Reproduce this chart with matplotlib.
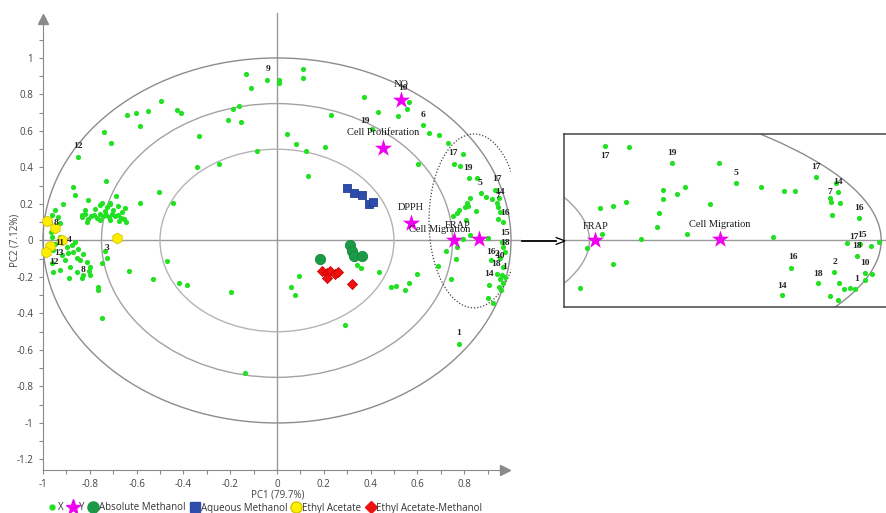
import numpy as np
import matplotlib.pyplot as plt
from matplotlib.patches import Ellipse
from matplotlib.lines import Line2D

# X-variable loadings (PC1, PC2), grouped by where they fall on the plot
x_upper = [(-0.132, 0.912), (-0.112, 0.837), (-0.044, 0.879), (0.010, 0.879), (0.010, 0.861),
           (-0.187, 0.719), (-0.161, 0.737), (-0.155, 0.651), (-0.209, 0.660),
           (-0.494, 0.766), (-0.429, 0.715), (-0.410, 0.697), (-0.551, 0.708), (-0.603, 0.697),
           (-0.640, 0.688), (-0.585, 0.627), (-0.739, 0.593), (-0.708, 0.536), (-0.335, 0.573),
           (-0.341, 0.404), (-0.247, 0.418), (-0.084, 0.492), (0.041, 0.582), (0.080, 0.527),
           (-0.852, 0.459), (-0.731, 0.326), (-0.871, 0.292), (-0.862, 0.249), (-0.808, 0.220),
           (-0.503, 0.264), (-0.443, 0.207), (-0.585, 0.204), (-0.688, 0.244), (-0.748, 0.204),
           (-0.714, 0.207), (-0.678, 0.191), (-0.651, 0.176), (-0.728, 0.182),
           (0.110, 0.938), (0.110, 0.889), (0.372, 0.788), (0.430, 0.702), (0.229, 0.688),
           (0.124, 0.492), (0.205, 0.512), (0.134, 0.355), (0.518, 0.682), (0.565, 0.761),
           (0.554, 0.721), (0.407, 0.611), (0.625, 0.633), (0.650, 0.591), (0.694, 0.578),
           (0.732, 0.536), (0.603, 0.419)]

x_band = [(-0.833, 0.129), (-0.821, 0.145), (-0.808, 0.118), (-0.795, 0.134), (-0.782, 0.140),
          (-0.769, 0.123), (-0.756, 0.145), (-0.744, 0.134), (-0.731, 0.140), (-0.718, 0.129),
          (-0.705, 0.145), (-0.692, 0.134), (-0.679, 0.140), (-0.667, 0.123), (-0.654, 0.118),
          (-0.645, 0.101), (-0.821, 0.167), (-0.778, 0.173), (-0.735, 0.162), (-0.701, 0.167),
          (-0.662, 0.156), (-0.812, 0.101), (-0.714, 0.112), (-0.675, 0.107), (-0.756, 0.112)]

x_left = [(-0.913, 0.200), (-0.949, 0.167), (-0.963, 0.140), (-0.935, 0.130), (-0.970, 0.103),
          (-0.927, 0.098), (-0.941, 0.076), (-0.967, 0.048), (-0.963, 0.018), (-0.927, 0.021),
          (-0.913, 0.003), (-0.949, -0.019), (-0.899, -0.034), (-0.877, -0.025), (-0.863, -0.007),
          (-0.956, -0.052), (-0.920, -0.079), (-0.892, -0.070), (-0.871, -0.061), (-0.849, -0.048),
          (-0.828, -0.074), (-0.906, -0.107), (-0.856, -0.098), (-0.963, -0.125), (-0.842, -0.107),
          (-0.885, -0.144), (-0.813, -0.116), (-0.799, -0.144), (-0.927, -0.162), (-0.856, -0.171),
          (-0.888, -0.204), (-0.830, -0.189), (-0.802, -0.167), (-0.735, -0.058), (-0.749, -0.125),
          (-0.728, -0.098), (-0.631, -0.165), (-0.764, -0.253), (-0.766, -0.271), (-0.749, -0.423),
          (-0.835, 0.140), (-0.756, 0.195), (-0.714, 0.200), (-0.956, -0.171), (-0.799, -0.189),
          (-0.835, -0.207)]

x_right = [(0.794, 0.474), (0.758, 0.419), (0.782, 0.408), (0.821, 0.341), (0.856, 0.341),
           (0.872, 0.259), (0.893, 0.237), (0.918, 0.226), (0.932, 0.277), (0.950, 0.231),
           (0.941, 0.204), (0.946, 0.182), (0.953, 0.158), (0.946, 0.116), (0.967, 0.103),
           (0.825, 0.231), (0.811, 0.207), (0.818, 0.189), (0.803, 0.182), (0.779, 0.167),
           (0.768, 0.152), (0.753, 0.134), (0.850, 0.163), (0.808, 0.112), (0.903, 0.012),
           (0.794, 0.007), (0.768, -0.034), (0.722, -0.056), (0.765, -0.103), (0.689, -0.138),
           (0.742, -0.211), (0.960, -0.007), (0.967, -0.034), (0.974, -0.061), (0.915, -0.107),
           (0.953, -0.098), (0.965, -0.144), (0.941, -0.184), (0.960, -0.189), (0.974, -0.198),
           (0.953, -0.213), (0.965, -0.235), (0.947, -0.253), (0.906, -0.244), (0.956, -0.271),
           (0.900, -0.317), (0.924, -0.341), (0.825, 0.030)]

x_lower = [(0.343, -0.134), (0.358, -0.152), (0.435, -0.171), (0.486, -0.253), (0.507, -0.249),
           (0.093, -0.195), (0.059, -0.253), (0.077, -0.300), (-0.198, -0.281), (-0.469, -0.111),
           (-0.529, -0.213), (-0.420, -0.235), (-0.383, -0.244), (0.291, -0.463), (-0.137, -0.726),
           (0.778, -0.567), (0.547, -0.271), (0.565, -0.231), (0.597, -0.184)]

# Y-variable loadings
y_names = ["NO", "Cell Proliferation", "DPPH", "FRAP", "Cell Migration"]
y_pc1 = [0.529, 0.452, 0.571, 0.755, 0.862]
y_pc2 = [0.770, 0.505, 0.098, 0.000, 0.006]

# sample scores per extraction solvent
abs_meoh = [(0.184, -0.101), (0.312, -0.025), (0.319, -0.056), (0.329, -0.085), (0.365, -0.085)]
aq_meoh = [(0.298, 0.286), (0.329, 0.262), (0.362, 0.249), (0.394, 0.200), (0.409, 0.213)]
etoac = [(-0.982, 0.108), (-0.949, 0.067), (-0.920, 0.003), (-0.970, -0.032),
         (-0.987, -0.061), (-0.682, 0.015)]
etoac_meoh = [(0.191, -0.165), (0.212, -0.180), (0.226, -0.165), (0.248, -0.185),
              (0.262, -0.174), (0.215, -0.207), (0.319, -0.238)]

# variable numbers shown next to the X loadings
num_text = ["9", "12", "19", "10", "6", "17", "19", "5", "17", "14", "7", "16", "15", "18",
            "16", "2", "10", "18", "1", "14", "1", "8", "11", "4", "13", "12", "8", "3"]
num_pc1 = [-0.040, -0.850, 0.376, 0.537, 0.625, 0.753, 0.818, 0.868, 0.939, 0.953, 0.944,
           0.974, 0.974, 0.974, 0.915, 0.940, 0.953, 0.936, 0.974, 0.907, 0.774, -0.944,
           -0.930, -0.888, -0.930, -0.953, -0.828, -0.725]
num_pc2 = [0.938, 0.518, 0.656, 0.834, 0.688, 0.478, 0.399, 0.313, 0.335, 0.267, 0.244,
           0.152, 0.043, -0.012, -0.061, -0.074, -0.085, -0.129, -0.144, -0.184, -0.507,
           0.098, -0.012, 0.003, -0.070, -0.116, -0.162, -0.043]

# magnified view of the right-hand cluster
zoom_x = [(0.763, 0.394), (0.784, 0.388), (0.821, 0.321), (0.861, 0.323), (0.876, 0.240),
          (0.897, 0.223), (0.917, 0.207), (0.926, 0.205), (0.944, 0.265), (0.961, 0.240),
          (0.963, 0.203), (0.956, 0.178), (0.957, 0.160), (0.965, 0.154), (0.958, 0.105),
          (0.981, 0.092), (0.813, 0.210), (0.832, 0.221), (0.813, 0.172), (0.825, 0.192),
          (0.853, 0.151), (0.810, 0.113), (0.808, 0.055), (0.759, 0.135), (0.770, 0.144),
          (0.781, 0.158), (0.794, 0.007), (0.834, 0.026), (0.907, 0.013), (0.761, 0.026),
          (0.748, -0.033), (0.770, -0.098), (0.742, -0.199), (0.923, -0.114), (0.915, -0.229),
          (0.946, -0.179), (0.960, -0.131), (0.964, -0.179), (0.956, -0.231), (0.963, -0.249),
          (0.968, -0.202), (0.973, -0.200), (0.978, -0.202), (0.986, -0.167), (0.992, -0.142),
          (0.986, -0.136), (0.979, -0.064), (0.971, -0.013), (0.982, -0.015), (0.991, -0.024),
          (0.998, -0.006)]
zoom_num_text = ["17", "19", "5", "17", "14", "7", "16", "15", "17", "18", "16", "2", "10",
                 "18", "1", "14"]
zoom_num_pc1 = [0.763, 0.821, 0.876, 0.944, 0.963, 0.956, 0.981, 0.984, 0.977, 0.979, 0.924,
                0.960, 0.986, 0.946, 0.979, 0.915]
zoom_num_pc2 = [0.351, 0.363, 0.282, 0.304, 0.242, 0.203, 0.133, 0.021, 0.015, -0.024, -0.071,
                -0.089, -0.096, -0.139, -0.161, -0.189]

GREEN = "#22e022"
MAGENTA = "#f000f0"
serif = "Liberation Serif"
sans = "Open Sans"

fig = plt.figure(figsize=(8.86, 5.13), dpi=100)
ax = fig.add_axes([43 / 886, 1 - 469.5 / 513, 468 / 886, 454.6 / 513])
ax.set_xlim(-1, 1.0)
ax.set_ylim(-1.255, 1.236)

for s in ["top", "right"]:
    ax.spines[s].set_visible(False)
for s in ["left", "bottom"]:
    ax.spines[s].set_color("#8a8a8a")
ax.spines["bottom"].set_bounds(-1, 0.96)
ax.spines["left"].set_bounds(-1.255, 1.20)
ax.plot([0.975], [-1.255], marker=">", ms=7, color="#8a8a8a", clip_on=False)
ax.plot([-1], [1.215], marker="^", ms=7, color="#8a8a8a", clip_on=False)

ax.set_xticks(np.round(np.arange(-1, 0.95, 0.1), 1), minor=True)
ax.set_yticks(np.round(np.arange(-1.2, 1.25, 0.1), 1), minor=True)
xt = [-1, -0.8, -0.6, -0.4, -0.2, 0, 0.2, 0.4, 0.6, 0.8]
yt = [-1.2, -1, -0.8, -0.6, -0.4, -0.2, 0, 0.2, 0.4, 0.6, 0.8, 1]
ax.set_xticks(xt)
ax.set_xticklabels([f"{v:g}" for v in xt])
ax.set_yticks(yt)
ax.set_yticklabels([f"{v:g}" for v in yt])
ax.tick_params(which="both", length=3, width=0.8, color="#8a8a8a", direction="out",
               labelsize=7, labelcolor="#444444", pad=4)
for lab in ax.get_xticklabels() + ax.get_yticklabels():
    lab.set_family(sans)

# zero lines and correlation circles
ax.plot([-1, 1.04], [0, 0], color="#9a9a9a", lw=1, clip_on=False, zorder=1)
ax.plot([0, 0], [-1.255, 1.245], color="#9a9a9a", lw=1, clip_on=False, zorder=1)
for r, c in [(1.0, "#8c8c8c"), (0.75, "#a2a2a2"), (0.5, "#b4b4b4")]:
    ax.add_patch(Ellipse((0, 0), 2 * r, 2 * r, fill=False, ec=c, lw=1, clip_on=False, zorder=1))
ax.add_patch(Ellipse((0.842, 0.107), 0.385, 0.953, fill=False, ec="#444444", lw=0.9,
                     ls=(0, (1, 1.5)), zorder=2))

xpts = np.array(x_upper + x_band + x_left + x_right + x_lower)
ax.scatter(xpts[:, 0], xpts[:, 1], s=14, color=GREEN, lw=0, zorder=3, clip_on=False)

for grp, mk, col, ec, sz in [(abs_meoh, "o", "#1b9a48", "#168a3e", 55),
                             (aq_meoh, "s", "#2d4cab", "#22408f", 40),
                             (etoac, "h", "#ffee00", "#d6c400", 60),
                             (etoac_meoh, "D", "#ee1111", "#d00000", 26)]:
    g = np.array(grp)
    ax.scatter(g[:, 0], g[:, 1], s=sz, marker=mk, color=col, edgecolors=ec, lw=0.6,
               zorder=4, clip_on=False)

ax.scatter(y_pc1, y_pc2, s=170, marker="*", color=MAGENTA, lw=0, zorder=5)
y_offsets = {"NO": (0, 15), "Cell Proliferation": (0, 16), "DPPH": (0, 15),
             "FRAP": (4, 15), "Cell Migration": (-39, 10)}
for name, px, py in zip(y_names, y_pc1, y_pc2):
    ax.annotate(name, (px, py), xytext=y_offsets[name], textcoords="offset pixels",
                ha="center", va="center", fontsize=7.5, family=serif, color="#1a1a1a", zorder=6)

for t, px, py in zip(num_text, num_pc1, num_pc2):
    ax.text(px, py, t, ha="center", va="center", fontsize=6.8, family=serif,
            fontweight="bold", color="#222222", zorder=6)

fig.text(278 / 886, 1 - 495 / 513, "PC1 (79.7%)", ha="center", va="center",
         fontsize=7, family=sans, color="#444444")
fig.text(15 / 886, 1 - 240 / 513, "PC2 (7.12%)", ha="center", va="center", rotation=90,
         fontsize=7, family=sans, color="#444444")

# arrow pointing to the magnified panel
fig.add_artist(plt.Line2D([522 / 886, 556 / 886], [1 - 241 / 513] * 2, color="black", lw=1.3))
fig.text(553 / 886, 1 - 241 / 513, ">", ha="left", va="center", fontsize=11, color="black")

# magnified panel
axz = fig.add_axes([564 / 886, 1 - 307 / 513, 323 / 886, 173 / 513])
axz.set_xlim(0.7282, 1.0050)
axz.set_ylim(-0.2779, 0.4429)
axz.set_xticks([])
axz.set_yticks([])
for s in axz.spines.values():
    s.set_color("#444444")
    s.set_linewidth(1.1)
axz.spines["right"].set_visible(False)
axz.axhline(0, color="#9a9a9a", lw=1, zorder=1)
for r, c in [(1.0, "#8c8c8c"), (0.75, "#a2a2a2")]:
    axz.add_patch(Ellipse((0, 0), 2 * r, 2 * r, fill=False, ec=c, lw=1, zorder=1))
zp = np.array(zoom_x)
axz.scatter(zp[:, 0], zp[:, 1], s=14, color=GREEN, lw=0, zorder=3)
axz.scatter(y_pc1, y_pc2, s=170, marker="*", color=MAGENTA, lw=0, zorder=5)
for name, px, py in zip(y_names, y_pc1, y_pc2):
    if name in ("FRAP", "Cell Migration"):
        axz.annotate(name, (px, py), xytext=(0, 14), textcoords="offset pixels",
                     ha="center", va="center", fontsize=7.5, family=serif, color="#1a1a1a")
for t, px, py in zip(zoom_num_text, zoom_num_pc1, zoom_num_pc2):
    axz.text(px, py, t, ha="center", va="center", fontsize=6.8, family=serif,
             fontweight="bold", color="#222222", zorder=6)

handles = [Line2D([], [], ls="", marker="o", ms=3.5, color=GREEN),
           Line2D([], [], ls="", marker="*", ms=11, color=MAGENTA),
           Line2D([], [], ls="", marker="o", ms=8, color="#1b9a48"),
           Line2D([], [], ls="", marker="s", ms=7, color="#2d4cab"),
           Line2D([], [], ls="", marker="o", ms=8, color="#ffee00", mec="#d6c400"),
           Line2D([], [], ls="", marker="D", ms=6, color="#ee1111")]
labels = ["X", "Y", "Absolute Methanol", "Aqueous Methanol", "Ethyl Acetate",
          "Ethyl Acetate-Methanol"]
leg = fig.legend(handles, labels, loc="center", bbox_to_anchor=(265 / 886, 1 - 508 / 513),
                 ncol=6, frameon=False, fontsize=7, handlelength=0.9, handletextpad=0.15,
                 columnspacing=0.5, borderpad=0, borderaxespad=0)
for t in leg.get_texts():
    t.set_family(sans)
    t.set_color("#333333")

fig.savefig("out.png", dpi=100)
